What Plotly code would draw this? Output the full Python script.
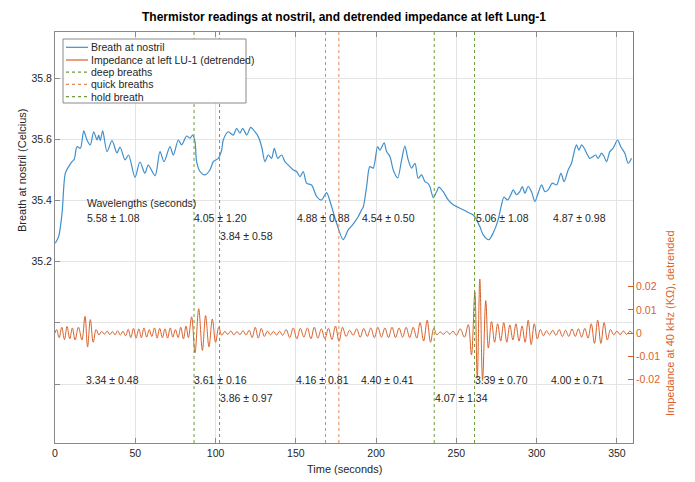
import plotly.graph_objects as go

# ---------------- data ----------------
t_breath = [0.2, 2.3, 4.4, 6.4, 8.5, 10.6, 12.0, 13.7, 15.8, 17.9,
            19.9, 22.0, 24.1, 26.2, 27.2, 28.2, 29.7, 32.4, 35.5, 38.6,
            40.5, 43.6, 45.8, 49.8, 52.9, 56.0, 58.1, 62.3, 65.4, 67.9,
            71.6, 73.7, 76.8, 78.9, 82.0, 84.1, 85.7, 87.2, 88.2, 90.3,
            93.4, 96.5, 98.6, 101.7, 103.8, 104.8, 107.9, 111.0, 113.1, 115.2,
            116.9, 119.4, 121.9, 124.5, 126.6, 128.7, 130.8, 132.8, 134.9, 136.6,
            138.7, 141.2, 143.2, 145.3, 148.4, 150.5, 152.6, 154.6, 156.7, 159.8,
            163.0, 166.1, 168.1, 169.2, 172.3, 175.4, 179.5, 182.6, 184.8, 186.8,
            188.9, 191.0, 192.0, 194.1, 196.1, 198.2, 200.9, 202.4, 205.0, 206.5,
            208.6, 210.7, 213.4, 215.9, 217.9, 220.0, 222.1, 224.2, 226.2, 228.3,
            230.4, 232.1, 233.5, 235.6, 237.7, 239.1, 241.8, 244.9, 248.0, 251.1,
            254.2, 257.4, 260.5, 262.6, 264.6, 266.7, 270.2, 272.9, 276.0, 278.1,
            279.6, 281.9, 283.9, 285.4, 287.5, 289.5, 291.0, 292.7, 294.7, 296.8,
            298.9, 300.9, 303.1, 305.1, 307.2, 309.7, 312.4, 315.1, 317.1, 319.6,
            321.7, 323.4, 324.8, 326.3, 328.0, 329.6, 331.7, 333.1, 335.2, 336.7,
            338.3, 340.4, 342.0, 343.5, 345.6, 347.6, 350.4, 352.4, 354.9, 357.0, 359.1]
breath = [35.261, 35.283, 35.359, 35.489, 35.511, 35.527, 35.535, 35.576, 35.571, 35.628,
          35.598, 35.582, 35.625, 35.598, 35.614, 35.596, 35.628, 35.560, 35.596, 35.556,
          35.575, 35.533, 35.549, 35.476, 35.526, 35.489, 35.516, 35.481, 35.560, 35.527,
          35.576, 35.549, 35.598, 35.582, 35.611, 35.604, 35.614, 35.592, 35.527, 35.495,
          35.484, 35.500, 35.527, 35.538, 35.565, 35.598, 35.625, 35.614, 35.636, 35.620,
          35.636, 35.614, 35.639, 35.625, 35.609, 35.576, 35.527, 35.549, 35.538, 35.571,
          35.538, 35.549, 35.527, 35.516, 35.500, 35.495, 35.478, 35.495, 35.457, 35.451,
          35.413, 35.402, 35.419, 35.426, 35.380, 35.326, 35.272, 35.304, 35.317, 35.331,
          35.348, 35.370, 35.379, 35.446, 35.511, 35.506, 35.576, 35.565, 35.589, 35.560,
          35.544, 35.500, 35.474, 35.533, 35.578, 35.533, 35.506, 35.522, 35.473, 35.484,
          35.462, 35.457, 35.446, 35.410, 35.429, 35.444, 35.429, 35.402, 35.386, 35.378,
          35.370, 35.361, 35.353, 35.337, 35.315, 35.288, 35.272, 35.294, 35.337, 35.386,
          35.411, 35.402, 35.419, 35.435, 35.419, 35.429, 35.446, 35.424, 35.446, 35.429,
          35.397, 35.424, 35.451, 35.429, 35.435, 35.457, 35.451, 35.489, 35.462, 35.500,
          35.522, 35.560, 35.582, 35.565, 35.582, 35.571, 35.549, 35.538, 35.544, 35.549,
          35.538, 35.555, 35.544, 35.527, 35.560, 35.571, 35.598, 35.576, 35.555, 35.522, 35.538]

t_imp = [0.0, 1.0, 2.6, 4.2, 5.9, 7.5, 9.2, 10.8, 12.5, 14.6,
         16.8, 18.7, 20.3, 22.0, 23.8, 25.6, 27.4, 29.1, 30.8, 32.5,
         34.1, 35.8, 37.4, 39.0, 40.7, 42.3, 44.0, 45.6, 47.2, 48.9,
         50.5, 52.2, 53.8, 55.4, 57.1, 58.7, 60.3, 62.0, 63.6, 65.2,
         66.9, 68.5, 70.1, 71.8, 73.4, 75.0, 76.7, 78.3, 80.0, 81.6,
         83.1, 85.1, 87.2, 89.5, 91.8, 93.8, 95.9, 98.0, 100.0, 102.0,
         103.9, 105.8, 107.6, 109.5, 111.4, 113.3, 115.2, 117.1, 119.0, 120.9,
         122.8, 124.7, 126.6, 128.5, 130.4, 132.3, 134.2, 136.1, 138.0, 139.9,
         141.8, 144.0, 146.2, 148.4, 150.6, 152.8, 155.0, 157.2, 159.4, 161.5,
         163.7, 165.9, 168.1, 170.3, 172.5, 174.7, 176.9, 179.1, 181.3, 183.5,
         185.7, 187.9, 190.1, 192.3, 194.5, 196.7, 198.9, 201.1, 203.3, 205.5,
         207.7, 209.9, 212.1, 214.3, 216.5, 218.7, 220.9, 223.1, 225.3, 227.4,
         229.6, 231.8, 233.9, 235.9, 237.9, 239.9, 241.9, 243.9, 245.9, 247.9,
         250.0, 252.4, 255.0, 257.4, 259.4, 261.5, 263.0, 264.6, 266.3, 268.3,
         269.9, 271.9, 273.8, 275.7, 277.6, 279.5, 281.4, 283.3, 285.2, 287.1,
         289.0, 290.9, 292.8, 294.7, 296.6, 298.5, 300.4, 302.3, 304.2, 306.1,
         308.0, 310.0, 312.0, 314.0, 316.0, 318.0, 320.0, 322.0, 324.0, 326.0,
         328.0, 330.0, 332.0, 334.0, 336.0, 338.0, 340.0, 342.0, 344.0, 346.0,
         348.0, 350.0, 352.0, 354.0, 356.0, 358.0, 360.0]
impedance = [0.0000, 0.0015, -0.0020, 0.0025, -0.0028, 0.0028, -0.0025, 0.0022, -0.0030, 0.0025,
             -0.0030, 0.0072, -0.0060, 0.0058, -0.0040, 0.0015, -0.0008, 0.0007, -0.0005, 0.0008,
             -0.0007, 0.0006, -0.0008, 0.0010, -0.0009, 0.0008, -0.0012, 0.0016, -0.0020, 0.0020,
             -0.0022, 0.0018, -0.0020, 0.0022, -0.0018, 0.0015, -0.0015, 0.0022, -0.0022, 0.0020,
             -0.0020, 0.0018, -0.0022, 0.0022, -0.0018, 0.0015, -0.0020, 0.0025, -0.0025, 0.0030,
             -0.0020, 0.0070, -0.0085, 0.0105, -0.0075, 0.0075, -0.0060, 0.0060, -0.0040, 0.0025,
             -0.0010, 0.0007, -0.0006, 0.0009, -0.0008, 0.0006, -0.0007, 0.0010, -0.0009, 0.0012,
             -0.0020, 0.0025, -0.0022, 0.0020, -0.0015, 0.0008, -0.0008, 0.0007, -0.0009, 0.0008,
             -0.0010, 0.0015, -0.0020, 0.0022, -0.0025, 0.0020, -0.0018, 0.0022, -0.0025, 0.0025,
             -0.0022, 0.0018, -0.0025, 0.0020, -0.0028, 0.0030, -0.0036, 0.0025, -0.0015, 0.0012,
             -0.0010, 0.0018, -0.0018, 0.0020, -0.0015, 0.0022, -0.0020, 0.0025, -0.0018, 0.0022,
             -0.0020, 0.0025, -0.0020, 0.0022, -0.0018, 0.0025, -0.0020, 0.0025, -0.0022, 0.0045,
             -0.0035, 0.0055, -0.0040, 0.0020, -0.0008, 0.0005, -0.0006, 0.0007, -0.0005, 0.0008,
             -0.0010, 0.0018, -0.0018, 0.0036, -0.0095, 0.0178, -0.0195, 0.0233, -0.0205, 0.0140,
             -0.0065, 0.0050, -0.0040, 0.0040, -0.0035, 0.0045, -0.0040, 0.0035, -0.0030, 0.0040,
             -0.0035, 0.0030, -0.0040, 0.0055, -0.0050, 0.0040, -0.0025, 0.0015, -0.0012, 0.0010,
             -0.0008, 0.0012, -0.0010, 0.0015, -0.0015, 0.0012, -0.0015, 0.0018, -0.0015, 0.0018,
             -0.0018, 0.0020, -0.0022, 0.0040, -0.0045, 0.0055, -0.0045, 0.0045, -0.0030, 0.0015,
             -0.0008, 0.0008, -0.0007, 0.0009, -0.0006, 0.0008, -0.0004]

deep_breaths = [86.6, 102.5]
quick_breaths = [168.5, 176.8]
hold_breath = [236.2, 261.3]

series_names = ["Breath at nostril", "Impedance at left LU-1 (detrended)",
                "deep breaths", "quick breaths", "hold breath"]

breath_wl_text = ["5.58 ± 1.08", "4.05 ± 1.20", "3.84 ± 0.58", "4.88 ± 0.88",
                  "4.54 ± 0.50", "5.06 ± 1.08", "4.87 ± 0.98"]
breath_wl_t = [20.0, 86.6, 102.5, 150.6, 191.2, 262.0, 310.0]
breath_wl_y = [35.344, 35.344, 35.285, 35.344, 35.344, 35.344, 35.344]

imp_wl_text = ["3.34 ± 0.48", "3.61 ± 0.16", "3.86 ± 0.97", "4.16 ± 0.81",
               "4.40 ± 0.41", "4.07 ± 1.34", "3.39 ± 0.70", "4.00 ± 0.71"]
imp_wl_t = [19.3, 86.7, 102.5, 150.4, 190.3, 236.6, 261.3, 308.8]
imp_wl_y = [34.815, 34.815, 34.753, 34.815, 34.815, 34.753, 34.815, 34.815]

x_ticks = [0, 50, 100, 150, 200, 250, 300, 350]
y_ticks = [34.8, 35.0, 35.2, 35.4, 35.6, 35.8]
y_ticktext = ["", "", "35.2", "35.4", "35.6", "35.8"]
y2_ticks = [-0.02, -0.01, 0, 0.01, 0.02]
y2_ticktext = ["-0.02", "-0.01", "0", "0.01", "0.02"]

# ---------------- style ----------------
BLUE = "#3f8fcb"
ORANGE = "#d9622b"
ORANGE_DASH = "#e08a5e"
GREEN = "#6f9a3e"
TXT = "#262626"
AX = "#8a8a8a"
GRID = "#e4e4e4"
FONT = "Arial, Liberation Sans, Helvetica, sans-serif"

L, R, T, B = 55, 62, 32, 39
W, H = 695, 482
PW, PH = W - L - R, H - T - B


def px_x(px):
    return (px - L) / PW


def px_y(py):
    return 1 - (py - T) / PH


fig = go.Figure()
fig.add_trace(go.Scatter(x=t_breath, y=breath, mode="lines", name=series_names[0],
                         line=dict(color=BLUE, width=1.2, shape="spline", smoothing=0.8),
                         showlegend=False))
fig.add_trace(go.Scatter(x=t_imp, y=impedance, mode="lines", name=series_names[1], yaxis="y2",
                         line=dict(color=ORANGE, width=1.0, shape="spline", smoothing=1.0),
                         showlegend=False))

shapes = []
for xs, col in ((deep_breaths, GREEN), (quick_breaths, ORANGE_DASH), (hold_breath, GREEN)):
    for xv in xs:
        shapes.append(dict(type="line", xref="x", yref="paper", x0=xv, x1=xv, y0=0, y1=1,
                           line=dict(color=col, width=1, dash="3px,3px"), layer="above"))

# manual MATLAB-style legend
shapes.append(dict(type="rect", xref="paper", yref="paper", x0=px_x(63), x1=px_x(246),
                   y0=px_y(103), y1=px_y(39), line=dict(color=AX, width=1),
                   fillcolor="white", layer="above"))
legend_rows = [47.3, 60.0, 72.2, 84.4, 96.6]
legend_styles = [(BLUE, "solid"), (ORANGE, "solid"), (GREEN, "3px,3px"),
                 (ORANGE_DASH, "3px,3px"), (GREEN, "3px,3px")]
annotations = []
for name, py, (col, dash) in zip(series_names, legend_rows, legend_styles):
    shapes.append(dict(type="line", xref="paper", yref="paper", x0=px_x(66), x1=px_x(88),
                       y0=px_y(py), y1=px_y(py), line=dict(color=col, width=1.2, dash=dash),
                       layer="above"))
    annotations.append(dict(xref="paper", yref="paper", x=px_x(89), y=px_y(py), text=name,
                            xanchor="left", yanchor="middle", showarrow=False,
                            font=dict(family=FONT, size=10.5, color=TXT)))

annotations.append(dict(x=20.0, y=35.393, xref="x", yref="y", text="Wavelengths (seconds)",
                        xanchor="left", yanchor="middle", showarrow=False, xshift=-2,
                        font=dict(family=FONT, size=10.5, color=TXT)))
for txt, xv, yv in zip(breath_wl_text + imp_wl_text, breath_wl_t + imp_wl_t,
                       breath_wl_y + imp_wl_y):
    annotations.append(dict(x=xv, y=yv, xref="x", yref="y", text=txt, xanchor="left",
                            yanchor="middle", showarrow=False, xshift=-2,
                            font=dict(family=FONT, size=10.5, color=TXT)))

# axis titles
annotations.append(dict(xref="paper", yref="paper", x=px_x(22), y=px_y(170),
                        text="Breath at nostril (Celcius)", textangle=-90, showarrow=False,
                        xanchor="center", yanchor="middle",
                        font=dict(family=FONT, size=11, color=TXT)))
annotations.append(dict(xref="paper", yref="paper", x=px_x(670), y=px_y(323),
                        text="Impedance at 40 kHz (KΩ), detrended", textangle=-90,
                        showarrow=False, xanchor="center", yanchor="middle",
                        font=dict(family=FONT, size=11, color=ORANGE)))
annotations.append(dict(xref="paper", yref="paper", x=0.5, y=px_y(469),
                        text="Time (seconds)", showarrow=False, xanchor="center",
                        yanchor="middle", font=dict(family=FONT, size=11, color=TXT)))

fig.update_layout(
    width=W, height=H,
    margin=dict(l=L, r=R, t=T, b=B),
    paper_bgcolor="white", plot_bgcolor="white",
    font=dict(family=FONT, size=10.5, color=TXT),
    title=dict(text="<b>Thermistor readings at nostril, and detrended impedance at left Lung-1</b>",
               x=0.5, xref="paper", xanchor="center", y=1 - 17 / H, yref="container",
               yanchor="middle", font=dict(family=FONT, size=12, color="#000000")),
    showlegend=False,
    xaxis=dict(range=[0, 360], tickvals=x_ticks, showline=True, linecolor=AX, linewidth=1,
               mirror="ticks", ticks="inside", ticklen=5, tickcolor=AX, showgrid=True,
               gridcolor=GRID, zeroline=False, tickfont=dict(size=10.5, color=TXT)),
    yaxis=dict(range=[34.6075, 35.951], tickvals=y_ticks, ticktext=y_ticktext, showline=True,
               linecolor=AX, linewidth=1, ticks="inside", ticklen=5, tickcolor=AX,
               showgrid=True, gridcolor=GRID, zeroline=False,
               tickfont=dict(size=10.5, color=TXT)),
    yaxis2=dict(range=[-0.0475, 0.130], overlaying="y", side="right", tickvals=y2_ticks,
                ticktext=y2_ticktext, showline=True, linecolor=ORANGE, linewidth=1,
                ticks="inside", ticklen=5, tickcolor=ORANGE, showgrid=False, zeroline=False,
                tickfont=dict(size=10.5, color=ORANGE)),
    shapes=shapes,
    annotations=annotations,
)

fig.write_html("out.html")
